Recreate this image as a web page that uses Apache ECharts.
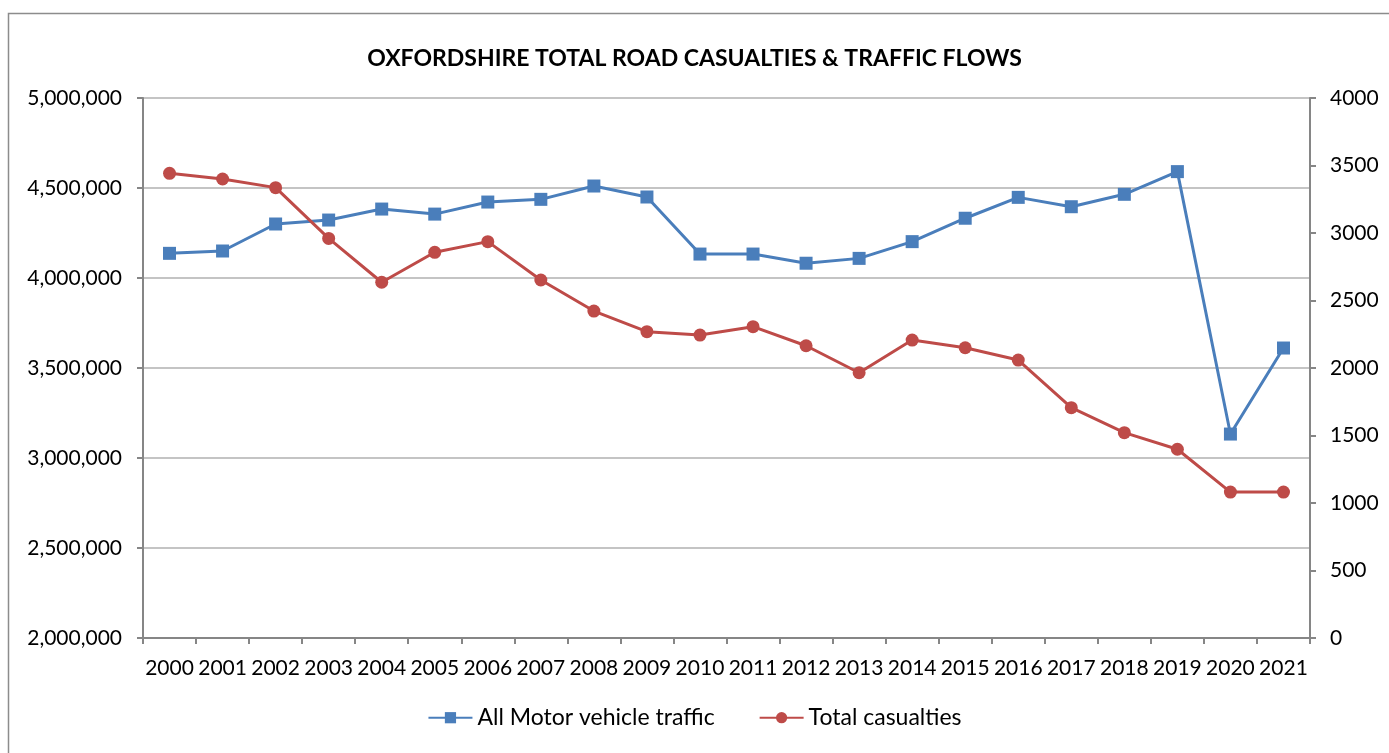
<!DOCTYPE html>
<html>
<head>
    <title>Oxfordshire road casualties</title>
    <script src="https://cdn.jsdelivr.net/npm/echarts@6.0.0/dist/echarts.min.js"></script>
    <style>
        body { margin: 0; background: #fff; }
    </style>
</head>
<body>
<div id="chart" style="width: 1389px; height: 753px;"></div>
<script>
    // data
    var years = ['2000', '2001', '2002', '2003', '2004', '2005', '2006', '2007', '2008', '2009', '2010',
        '2011', '2012', '2013', '2014', '2015', '2016', '2017', '2018', '2019', '2020', '2021'];
    var traffic = [4137000, 4150000, 4300000, 4322000, 4383000, 4355000, 4422000, 4437000, 4511000, 4450000, 4133000,
        4133000, 4082000, 4109000, 4202000, 4332000, 4448000, 4396000, 4465000, 4591000, 3133000, 3611000];
    var casualties = [3442, 3400, 3336, 2960, 2635, 2857, 2936, 2652, 2422, 2269, 2244,
        2306, 2165, 1965, 2207, 2150, 2059, 1706, 1521, 1398, 1081, 1081];

    var font = 'Lato';
    var chart = echarts.init(document.getElementById('chart'));

    var option = {
        animation: false,
        textStyle: { fontFamily: font },
        graphic: [{
            type: 'rect',
            shape: { x: 8.5, y: 13.5, width: 1400, height: 800 },
            style: { fill: 'none', stroke: '#8c8c8c', lineWidth: 1.5 }
        }],
        title: {
            text: 'OXFORDSHIRE TOTAL ROAD CASUALTIES & TRAFFIC FLOWS',
            left: 'center',
            top: 36,
            textStyle: { fontFamily: font, fontSize: 23, fontWeight: 'bold', color: '#000' }
        },
        legend: {
            bottom: 13,
            left: 'center',
            itemWidth: 44,
            itemHeight: 14,
            itemGap: 44,
            textStyle: { fontFamily: font, fontSize: 23, color: '#000' },
            data: ['All Motor vehicle traffic', 'Total casualties']
        },
        grid: { left: 143, right: 79, top: 98, bottom: 115 },
        xAxis: {
            type: 'category',
            data: years,
            boundaryGap: true,
            axisLine: { lineStyle: { color: '#868686', width: 2 } },
            axisTick: { show: true, length: 6, lineStyle: { color: '#868686', width: 2 } },
            axisLabel: { fontFamily: font, fontSize: 21, color: '#000', margin: 14, interval: 0 }
        },
        yAxis: [{
            type: 'value',
            min: 2000000,
            max: 5000000,
            interval: 500000,
            axisLine: { show: true, lineStyle: { color: '#868686', width: 2 } },
            axisTick: { show: true, length: 6, lineStyle: { color: '#868686', width: 2 } },
            splitLine: { lineStyle: { color: '#c4c4c4', width: 2 } },
            axisLabel: {
                fontFamily: font, fontSize: 21, color: '#000', margin: 21,
                formatter: function (v) { return v.toLocaleString('en-US'); }
            }
        }, {
            type: 'value',
            min: 0,
            max: 4000,
            interval: 500,
            position: 'right',
            axisLine: { show: true, lineStyle: { color: '#868686', width: 2 } },
            axisTick: { show: true, length: 6, lineStyle: { color: '#868686', width: 2 } },
            splitLine: { show: false },
            axisLabel: {
                fontFamily: font, fontSize: 21, color: '#000', margin: 20,
                formatter: function (v) { return String(v); }
            }
        }],
        series: [{
            name: 'All Motor vehicle traffic',
            type: 'line',
            yAxisIndex: 0,
            data: traffic,
            symbol: 'rect',
            symbolSize: 13,
            lineStyle: { color: '#4a7ebb', width: 3 },
            itemStyle: { color: '#4a7ebb' }
        }, {
            name: 'Total casualties',
            type: 'line',
            yAxisIndex: 1,
            data: casualties,
            symbol: 'circle',
            symbolSize: 13,
            lineStyle: { color: '#be4b48', width: 3 },
            itemStyle: { color: '#be4b48' }
        }]
    };

    chart.setOption(option);
</script>
</body>
</html>
